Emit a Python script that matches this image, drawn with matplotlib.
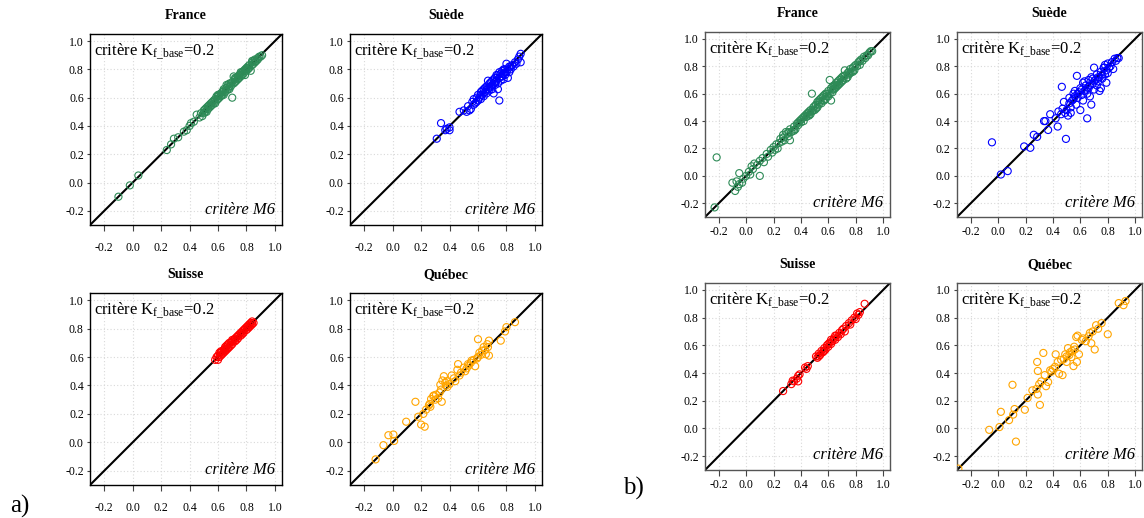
import numpy as np
import matplotlib
matplotlib.use("Agg")
import matplotlib.pyplot as plt

plt.rcParams['font.family'] = ['Liberation Serif', 'DejaVu Serif']
plt.rcParams['mathtext.fontset'] = 'custom'
plt.rcParams['mathtext.rm'] = 'Liberation Serif'
plt.rcParams['mathtext.it'] = 'Liberation Serif:italic'

# data: (Kf_base criterion, M6 criterion) pairs per country
# --- a) ---
france_a = [(-0.10, -0.10), (-0.02, -0.02), (0.04, 0.05), (0.24, 0.23), (0.27, 0.27), (0.29, 0.31),
            (0.32, 0.32), (0.36, 0.36), (0.38, 0.37), (0.40, 0.40), (0.41, 0.42), (0.43, 0.43),
            (0.45, 0.48), (0.47, 0.46), (0.48, 0.49), (0.49, 0.47), (0.50, 0.51), (0.50, 0.49),
            (0.51, 0.52), (0.52, 0.50), (0.52, 0.53), (0.53, 0.52), (0.54, 0.55), (0.54, 0.53),
            (0.55, 0.54), (0.56, 0.57), (0.56, 0.55), (0.57, 0.58), (0.58, 0.56), (0.58, 0.59),
            (0.59, 0.58), (0.60, 0.61), (0.60, 0.59), (0.61, 0.60), (0.62, 0.63), (0.62, 0.61),
            (0.63, 0.64), (0.64, 0.62), (0.64, 0.65), (0.65, 0.64), (0.66, 0.67), (0.66, 0.65),
            (0.67, 0.69), (0.68, 0.66), (0.68, 0.70), (0.69, 0.68), (0.70, 0.71), (0.70, 0.60),
            (0.71, 0.75), (0.71, 0.70), (0.72, 0.73), (0.72, 0.71), (0.73, 0.72), (0.74, 0.75),
            (0.74, 0.73), (0.75, 0.74), (0.76, 0.77), (0.76, 0.75), (0.77, 0.76), (0.78, 0.79),
            (0.78, 0.77), (0.79, 0.76), (0.80, 0.81), (0.80, 0.79), (0.81, 0.80), (0.82, 0.83),
            (0.82, 0.81), (0.83, 0.79), (0.84, 0.85), (0.84, 0.83), (0.85, 0.84), (0.86, 0.87),
            (0.86, 0.85), (0.87, 0.86), (0.88, 0.88), (0.89, 0.89), (0.90, 0.89), (0.91, 0.90),
            (0.63, 0.62), (0.67, 0.66), (0.75, 0.76), (0.79, 0.80), (0.55, 0.56), (0.57, 0.56),
            (0.61, 0.62), (0.69, 0.70), (0.73, 0.74), (0.77, 0.78), (0.81, 0.82), (0.85, 0.86),
            (0.60, 0.62), (0.64, 0.66), (0.68, 0.68), (0.72, 0.74), (0.76, 0.78), (0.80, 0.80),
            (0.84, 0.86), (0.88, 0.87), (0.53, 0.54), (0.51, 0.50), (0.59, 0.61), (0.66, 0.69)]

suede_a = [(0.31, 0.31), (0.34, 0.42), (0.37, 0.37), (0.38, 0.38), (0.40, 0.39), (0.40, 0.37),
           (0.47, 0.50), (0.50, 0.51), (0.52, 0.50), (0.53, 0.54), (0.54, 0.51), (0.55, 0.52),
           (0.56, 0.57), (0.57, 0.55), (0.57, 0.59), (0.58, 0.56), (0.59, 0.60), (0.60, 0.58),
           (0.60, 0.62), (0.61, 0.60), (0.62, 0.64), (0.62, 0.59), (0.63, 0.62), (0.64, 0.66),
           (0.64, 0.61), (0.65, 0.64), (0.66, 0.68), (0.66, 0.63), (0.67, 0.72), (0.67, 0.66),
           (0.68, 0.65), (0.68, 0.70), (0.69, 0.68), (0.70, 0.72), (0.70, 0.66), (0.71, 0.63),
           (0.71, 0.70), (0.72, 0.74), (0.72, 0.69), (0.73, 0.72), (0.73, 0.76), (0.74, 0.70),
           (0.74, 0.66), (0.75, 0.58), (0.75, 0.74), (0.76, 0.77), (0.76, 0.72), (0.77, 0.75),
           (0.77, 0.79), (0.78, 0.73), (0.78, 0.77), (0.79, 0.80), (0.79, 0.76), (0.80, 0.84),
           (0.80, 0.78), (0.81, 0.74), (0.81, 0.80), (0.82, 0.82), (0.82, 0.78), (0.83, 0.80),
           (0.84, 0.83), (0.85, 0.82), (0.86, 0.85), (0.87, 0.84), (0.88, 0.87), (0.89, 0.89),
           (0.90, 0.91), (0.90, 0.85), (0.65, 0.67), (0.69, 0.71), (0.63, 0.65), (0.59, 0.57),
           (0.76, 0.75), (0.72, 0.71), (0.68, 0.67), (0.78, 0.80), (0.74, 0.76), (0.70, 0.69),
           (0.66, 0.66), (0.62, 0.62), (0.75, 0.78), (0.79, 0.78), (0.83, 0.82), (0.71, 0.73)]

suisse_a = [(0.58, 0.58), (0.59, 0.60), (0.60, 0.58), (0.60, 0.61), (0.61, 0.60), (0.62, 0.63),
            (0.62, 0.61), (0.63, 0.64), (0.63, 0.62), (0.64, 0.65), (0.64, 0.63), (0.65, 0.66),
            (0.65, 0.64), (0.66, 0.68), (0.66, 0.65), (0.67, 0.69), (0.67, 0.66), (0.68, 0.67),
            (0.68, 0.70), (0.69, 0.68), (0.70, 0.71), (0.70, 0.69), (0.71, 0.72), (0.72, 0.71),
            (0.72, 0.73), (0.73, 0.74), (0.74, 0.73), (0.74, 0.75), (0.75, 0.76), (0.76, 0.75),
            (0.76, 0.77), (0.77, 0.78), (0.78, 0.77), (0.78, 0.79), (0.79, 0.80), (0.80, 0.79),
            (0.80, 0.81), (0.81, 0.82), (0.82, 0.81), (0.82, 0.83), (0.83, 0.84), (0.84, 0.83),
            (0.84, 0.85), (0.85, 0.84), (0.83, 0.82), (0.61, 0.63), (0.65, 0.67), (0.69, 0.70),
            (0.62, 0.64), (0.66, 0.66), (0.70, 0.72), (0.73, 0.72), (0.77, 0.76), (0.81, 0.80)]

quebec_a = [(-0.12, -0.12), (-0.065, -0.02), (-0.03, 0.05), (0.005, 0.055), (0.01, 0.01),
            (0.095, 0.145), (0.16, 0.285), (0.18, 0.18), (0.20, 0.125), (0.225, 0.11),
            (0.215, 0.20), (0.235, 0.23), (0.255, 0.26), (0.265, 0.25), (0.27, 0.305),
            (0.285, 0.325), (0.305, 0.335), (0.32, 0.31), (0.33, 0.35), (0.335, 0.405),
            (0.345, 0.285), (0.35, 0.435), (0.36, 0.465), (0.37, 0.42), (0.375, 0.40),
            (0.385, 0.39), (0.415, 0.47), (0.44, 0.43), (0.455, 0.51), (0.46, 0.55),
            (0.48, 0.49), (0.50, 0.525), (0.52, 0.52), (0.535, 0.54), (0.555, 0.575),
            (0.58, 0.535), (0.593, 0.59), (0.60, 0.725), (0.62, 0.615), (0.63, 0.645),
            (0.64, 0.67), (0.655, 0.62), (0.665, 0.69), (0.677, 0.61), (0.677, 0.715),
            (0.76, 0.715), (0.79, 0.78), (0.80, 0.81), (0.86, 0.845), (0.30, 0.30),
            (0.29, 0.33), (0.34, 0.37), (0.40, 0.41), (0.43, 0.45), (0.47, 0.47), (0.51, 0.50),
            (0.55, 0.56), (0.57, 0.58), (0.60, 0.60), (0.61, 0.63), (0.65, 0.65), (0.67, 0.67),
            (0.53, 0.55), (0.26, 0.27), (0.38, 0.43)]

# --- b) ---
france_b = [(-0.23, -0.23), (-0.215, 0.135), (-0.10, -0.05), (-0.08, -0.11), (-0.07, -0.04),
            (-0.05, -0.06), (-0.05, 0.02), (-0.03, -0.05), (-0.02, -0.02), (0.00, 0.00),
            (0.02, 0.03), (0.03, 0.01), (0.05, 0.05), (0.06, 0.09), (0.08, 0.08), (0.10, 0.00),
            (0.10, 0.11), (0.12, 0.13), (0.13, 0.10), (0.15, 0.16), (0.18, 0.19), (0.19, 0.17),
            (0.20, 0.21), (0.22, 0.23), (0.23, 0.20), (0.25, 0.27), (0.26, 0.25), (0.27, 0.30),
            (0.28, 0.26), (0.30, 0.31), (0.31, 0.29), (0.32, 0.26), (0.32, 0.34), (0.33, 0.32),
            (0.35, 0.36), (0.36, 0.34), (0.37, 0.38), (0.38, 0.37), (0.39, 0.40), (0.40, 0.39),
            (0.41, 0.42), (0.42, 0.40), (0.43, 0.44), (0.44, 0.43), (0.45, 0.46), (0.46, 0.44),
            (0.47, 0.48), (0.48, 0.60), (0.48, 0.47), (0.49, 0.50), (0.50, 0.48), (0.51, 0.52),
            (0.52, 0.50), (0.52, 0.54), (0.53, 0.52), (0.54, 0.56), (0.55, 0.53), (0.55, 0.57),
            (0.56, 0.55), (0.57, 0.59), (0.58, 0.56), (0.58, 0.60), (0.59, 0.58), (0.60, 0.62),
            (0.60, 0.58), (0.61, 0.70), (0.61, 0.60), (0.62, 0.55), (0.62, 0.64), (0.63, 0.61),
            (0.64, 0.66), (0.64, 0.63), (0.65, 0.64), (0.66, 0.68), (0.66, 0.65), (0.67, 0.66),
            (0.68, 0.70), (0.68, 0.67), (0.69, 0.68), (0.70, 0.72), (0.70, 0.69), (0.71, 0.70),
            (0.72, 0.77), (0.72, 0.73), (0.73, 0.71), (0.74, 0.75), (0.75, 0.74), (0.76, 0.78),
            (0.76, 0.75), (0.77, 0.76), (0.78, 0.79), (0.79, 0.77), (0.80, 0.81), (0.81, 0.80),
            (0.82, 0.83), (0.83, 0.81), (0.84, 0.85), (0.85, 0.84), (0.86, 0.87), (0.87, 0.86),
            (0.88, 0.88), (0.89, 0.88), (0.90, 0.90), (0.91, 0.91), (0.92, 0.91), (0.29, 0.32),
            (0.34, 0.33), (0.44, 0.45), (0.50, 0.51), (0.56, 0.58), (0.63, 0.65), (0.67, 0.69),
            (0.74, 0.72), (0.53, 0.55), (0.46, 0.47), (0.40, 0.41), (0.57, 0.55), (0.65, 0.66),
            (0.69, 0.71), (0.78, 0.76), (-0.06, -0.08), (0.04, 0.07), (0.16, 0.14), (0.24, 0.24),
            (0.35, 0.33), (0.42, 0.43), (0.47, 0.45), (0.51, 0.49), (0.54, 0.54), (0.59, 0.60),
            (0.63, 0.63), (0.66, 0.66), (0.71, 0.73), (0.75, 0.76), (0.79, 0.80), (0.83, 0.84),
            (0.21, 0.19), (0.27, 0.28), (0.31, 0.32), (0.38, 0.39), (0.45, 0.44), (0.49, 0.48)]

suede_b = [(-0.045, 0.245), (0.02, 0.01), (0.07, 0.035), (0.19, 0.215), (0.235, 0.205),
           (0.26, 0.30), (0.285, 0.285), (0.335, 0.40), (0.345, 0.40), (0.365, 0.335),
           (0.38, 0.45), (0.435, 0.36), (0.495, 0.27), (0.42, 0.42), (0.44, 0.47), (0.46, 0.45),
           (0.465, 0.65), (0.48, 0.54), (0.49, 0.46), (0.50, 0.48), (0.51, 0.44), (0.52, 0.57),
           (0.53, 0.50), (0.54, 0.55), (0.55, 0.60), (0.56, 0.58), (0.57, 0.52), (0.575, 0.73),
           (0.58, 0.57), (0.59, 0.61), (0.60, 0.48), (0.60, 0.64), (0.61, 0.59), (0.62, 0.68),
           (0.62, 0.55), (0.63, 0.62), (0.64, 0.66), (0.65, 0.42), (0.65, 0.60), (0.66, 0.70),
           (0.66, 0.64), (0.67, 0.58), (0.68, 0.52), (0.68, 0.72), (0.69, 0.67), (0.70, 0.79),
           (0.70, 0.63), (0.71, 0.70), (0.72, 0.74), (0.72, 0.66), (0.73, 0.69), (0.74, 0.72),
           (0.75, 0.64), (0.75, 0.76), (0.76, 0.71), (0.77, 0.79), (0.775, 0.79), (0.78, 0.74),
           (0.79, 0.68), (0.79, 0.77), (0.80, 0.82), (0.80, 0.75), (0.81, 0.79), (0.82, 0.80),
           (0.83, 0.83), (0.84, 0.78), (0.85, 0.855), (0.86, 0.84), (0.87, 0.86), (0.88, 0.86),
           (0.63, 0.69), (0.64, 0.63), (0.67, 0.66), (0.69, 0.71), (0.73, 0.72), (0.76, 0.74),
           (0.61, 0.63), (0.58, 0.60), (0.55, 0.56), (0.52, 0.53), (0.47, 0.49), (0.56, 0.62),
           (0.74, 0.62), (0.70, 0.69), (0.78, 0.81), (0.53, 0.46)]

suisse_b = [(0.27, 0.27), (0.33, 0.32), (0.34, 0.345), (0.35, 0.34), (0.37, 0.36), (0.38, 0.38),
            (0.38, 0.34), (0.39, 0.39), (0.43, 0.44), (0.44, 0.43), (0.45, 0.45), (0.51, 0.52),
            (0.52, 0.51), (0.53, 0.54), (0.54, 0.53), (0.55, 0.56), (0.56, 0.55), (0.57, 0.58),
            (0.58, 0.57), (0.59, 0.60), (0.60, 0.59), (0.61, 0.62), (0.62, 0.61), (0.62, 0.64),
            (0.63, 0.63), (0.64, 0.65), (0.65, 0.64), (0.66, 0.67), (0.67, 0.66), (0.68, 0.69),
            (0.69, 0.68), (0.70, 0.71), (0.72, 0.70), (0.73, 0.74), (0.75, 0.76), (0.76, 0.75),
            (0.77, 0.78), (0.79, 0.80), (0.80, 0.79), (0.81, 0.83), (0.82, 0.82), (0.83, 0.84),
            (0.865, 0.90), (0.57, 0.56), (0.60, 0.61), (0.65, 0.67), (0.71, 0.72), (0.53, 0.52)]

quebec_b = [(-0.29, -0.29), (-0.065, -0.01), (0.01, 0.01), (0.02, 0.12), (0.08, 0.06),
            (0.105, 0.315), (0.11, 0.10), (0.12, 0.14), (0.13, -0.095), (0.195, 0.135),
            (0.215, 0.22), (0.25, 0.275), (0.28, 0.285), (0.285, 0.48), (0.29, 0.415),
            (0.29, 0.245), (0.30, 0.32), (0.305, 0.17), (0.315, 0.34), (0.33, 0.545),
            (0.34, 0.385), (0.35, 0.305), (0.365, 0.335), (0.38, 0.42), (0.39, 0.41),
            (0.40, 0.43), (0.415, 0.445), (0.42, 0.535), (0.435, 0.48), (0.445, 0.395),
            (0.46, 0.495), (0.47, 0.385), (0.49, 0.535), (0.50, 0.48), (0.51, 0.58),
            (0.525, 0.55), (0.535, 0.515), (0.55, 0.45), (0.555, 0.59), (0.575, 0.48),
            (0.58, 0.67), (0.59, 0.535), (0.62, 0.65), (0.64, 0.63), (0.66, 0.665),
            (0.68, 0.615), (0.69, 0.70), (0.705, 0.57), (0.715, 0.745), (0.73, 0.72),
            (0.755, 0.76), (0.80, 0.68), (0.88, 0.905), (0.915, 0.89), (0.93, 0.92),
            (0.52, 0.53), (0.54, 0.56), (0.56, 0.57), (0.48, 0.50), (0.50, 0.52), (0.57, 0.66),
            (0.61, 0.64), (0.67, 0.69)]

countries = ["France", "Suède", "Suisse", "Québec"]
colors = ["seagreen", "blue", "red", "orange"]
data_a = [france_a, suede_a, suisse_a, quebec_a]
data_b = [france_b, suede_b, suisse_b, quebec_b]
ticks = [-0.2, 0.0, 0.2, 0.4, 0.6, 0.8, 1.0]

W, H = 1144, 518
fig = plt.figure(figsize=(W / 100, H / 100), dpi=100)


def px_axes(x0, y0, x1, y1):
    return fig.add_axes([x0 / W, 1 - y1 / H, (x1 - x0) / W, (y1 - y0) / H])


def panel(ax, pts, col, name, frame_col, xpad):
    pts = np.array(pts)
    ax.set_xlim(-0.3, 1.05)
    ax.set_ylim(-0.3, 1.05)
    ax.set_xticks(ticks)
    ax.set_yticks(ticks)
    ax.set_xticklabels(["%.1f" % t for t in ticks])
    ax.set_yticklabels(["%.1f" % t for t in ticks])
    ax.grid(True, color="#d9d9d9", linestyle=(0, (1, 2)), linewidth=0.8)
    ax.set_axisbelow(True)
    ax.plot([-0.3, 1.05], [-0.3, 1.05], color="black", linewidth=1.5, zorder=2)
    ax.scatter(pts[:, 0], pts[:, 1], s=26, facecolors="none", edgecolors=col,
               linewidths=0.8, zorder=3)
    ax.tick_params(axis="x", length=4, width=0.8, pad=xpad, labelsize=8.5, color="#444444")
    ax.tick_params(axis="y", length=2, width=0.8, pad=2.5, labelsize=8.5, color="#444444")
    for s in ax.spines.values():
        s.set_color(frame_col)
        s.set_linewidth(1.0)
    ax.set_title(name, fontsize=10, fontweight="bold", pad=11)
    ax.text(0.022, 0.96, r"critère K$_{\mathrm{f\_base}}$=0.2", transform=ax.transAxes,
            fontsize=12, ha="left", va="top")
    ax.text(0.965, 0.035, "critère M6", transform=ax.transAxes, fontsize=12,
            style="italic", ha="right", va="bottom")


boxes_a = [(90, 34, 282, 225), (350, 34, 542, 225), (90, 293, 282, 485), (350, 293, 542, 485)]
boxes_b = [(705, 32, 890, 217), (957, 32, 1142, 217), (705, 283, 890, 470), (957, 283, 1142, 470)]

for box, pts, col, name in zip(boxes_a, data_a, colors, countries):
    panel(px_axes(*box), pts, col, name, "black", 8)
for box, pts, col, name in zip(boxes_b, data_b, colors, countries):
    panel(px_axes(*box), pts, col, name, "#555555", 2.5)

fig.text(10 / W, 1 - 506 / H, "a)", fontsize=18, ha="left", va="center")
fig.text(623 / W, 1 - 488 / H, "b)", fontsize=18, ha="left", va="center")

fig.savefig("out.png", dpi=100)
